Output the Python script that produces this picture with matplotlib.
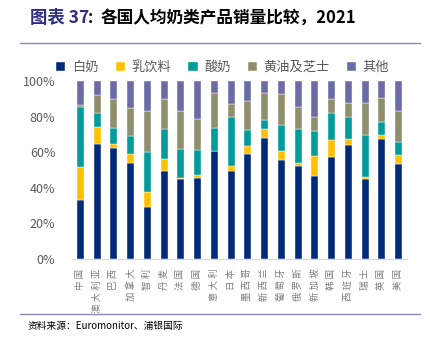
import matplotlib
matplotlib.use("Agg")
import matplotlib.pyplot as plt
import numpy as np

plt.rcParams["font.family"] = ["Noto Sans CJK SC", "DejaVu Sans"]

countries = ["中国", "澳大利亚", "巴西", "加拿大", "智利", "丹麦", "法国", "德国", "意大利", "日本",
             "墨西哥", "新西兰", "葡萄牙", "俄罗斯", "新加坡", "韩国", "西班牙", "瑞士", "英国", "美国"]
series_names = ["白奶", "乳饮料", "酸奶", "黄油及芝士", "其他"]

white_milk = [33.1, 64.6, 62.2, 53.7, 29.4, 49.4, 44.8, 45.3, 60.5, 49.6,
              59.2, 68.2, 55.8, 52.4, 46.8, 57.5, 63.9, 44.8, 67.2, 53.6]
milk_drink = [18.6, 9.4, 2.4, 5.3, 8.4, 6.8, 0.9, 1.9, 0.4, 2.6,
              4.3, 4.8, 4.9, 1.3, 11.1, 9.2, 3.3, 1.5, 2.5, 4.8]
yogurt = [33.7, 8.2, 9.2, 10.3, 22.5, 16.8, 16.1, 14.2, 12.9, 27.8,
          9.0, 4.9, 14.8, 19.3, 14.2, 15.5, 12.4, 23.4, 7.1, 7.5]
butter_cheese = [1.1, 9.9, 15.9, 15.3, 23.0, 16.9, 21.2, 17.3, 19.3, 7.1,
                 16.3, 15.5, 17.0, 12.4, 7.7, 7.5, 8.0, 17.9, 13.6, 17.1]
others = [13.5, 7.9, 10.3, 15.4, 16.7, 10.1, 17.0, 21.3, 6.9, 12.9,
          11.2, 6.6, 7.5, 14.6, 20.2, 10.3, 12.4, 12.4, 9.6, 17.0]

colors = ["#002A7A", "#FFC000", "#009B9B", "#8F8F6E", "#6B6BA6"]

fig = plt.figure(figsize=(4.3, 3.41), dpi=100)
ax = fig.add_axes([72 / 430, 1 - 259 / 341, 335 / 430, 178 / 341])

x = np.arange(len(countries))
data = [white_milk, milk_drink, yogurt, butter_cheese, others]
bottom = np.zeros(len(countries))
for vals, name, c in zip(data, series_names, colors):
    v = np.array(vals) / 100
    ax.bar(x, v, 0.43, bottom=bottom, color=c, label=name, edgecolor="white", linewidth=0.3, zorder=2)
    bottom += v

ax.set_xlim(-0.5, len(countries) - 0.5)
ax.set_ylim(0, 1)
ticks = np.arange(0, 1.01, 0.2)
ax.set_yticks(ticks)
ax.set_yticklabels([f"{int(round(t * 100))}%" for t in ticks], color="#595959", fontsize=9)
ax.set_xticks(x)
# spaced characters, rotated like the source
ax.set_xticklabels([" ".join(c) for c in countries], fontsize=6.8, color="#7F7F7F",
                   rotation=90, ha="center", va="top")
ax.tick_params(axis="both", length=0)
ax.tick_params(axis="y", pad=12)
ax.tick_params(axis="x", pad=7)
for s in ["top", "right", "left"]:
    ax.spines[s].set_visible(False)
ax.spines["bottom"].set_color("#D9D9D9")

ax.legend(loc="lower center", bbox_to_anchor=(0.45, 1.0), ncol=5, frameon=False, fontsize=9.5,
          handlelength=0.7, handleheight=0.7, handletextpad=0.5, columnspacing=1.3,
          labelcolor="#595959", borderaxespad=0.15)

fig.text(30 / 430, 1 - 18 / 341, "图表 37", color="#2E2E80", fontsize=12.5, fontweight="bold", va="center")
fig.text(88 / 430, 1 - 18 / 341, ":", color="black", fontsize=12, fontweight="bold", va="center")
fig.text(101 / 430, 1 - 18 / 341, "各国人均奶类产品销量比较，2021", color="black", fontsize=12,
         fontweight="bold", va="center")
fig.add_artist(plt.Line2D([20 / 430, 420 / 430], [1 - 43 / 341, 1 - 43 / 341], color="#8B88C0", lw=1))
fig.add_artist(plt.Line2D([20 / 430, 420 / 430], [1 - 314 / 341, 1 - 314 / 341], color="#8B88C0", lw=1))
fig.text(28 / 430, 1 - 326 / 341, "资料来源：Euromonitor、浦银国际", fontsize=7, color="black", va="center")

fig.savefig("out.png", dpi=100)
